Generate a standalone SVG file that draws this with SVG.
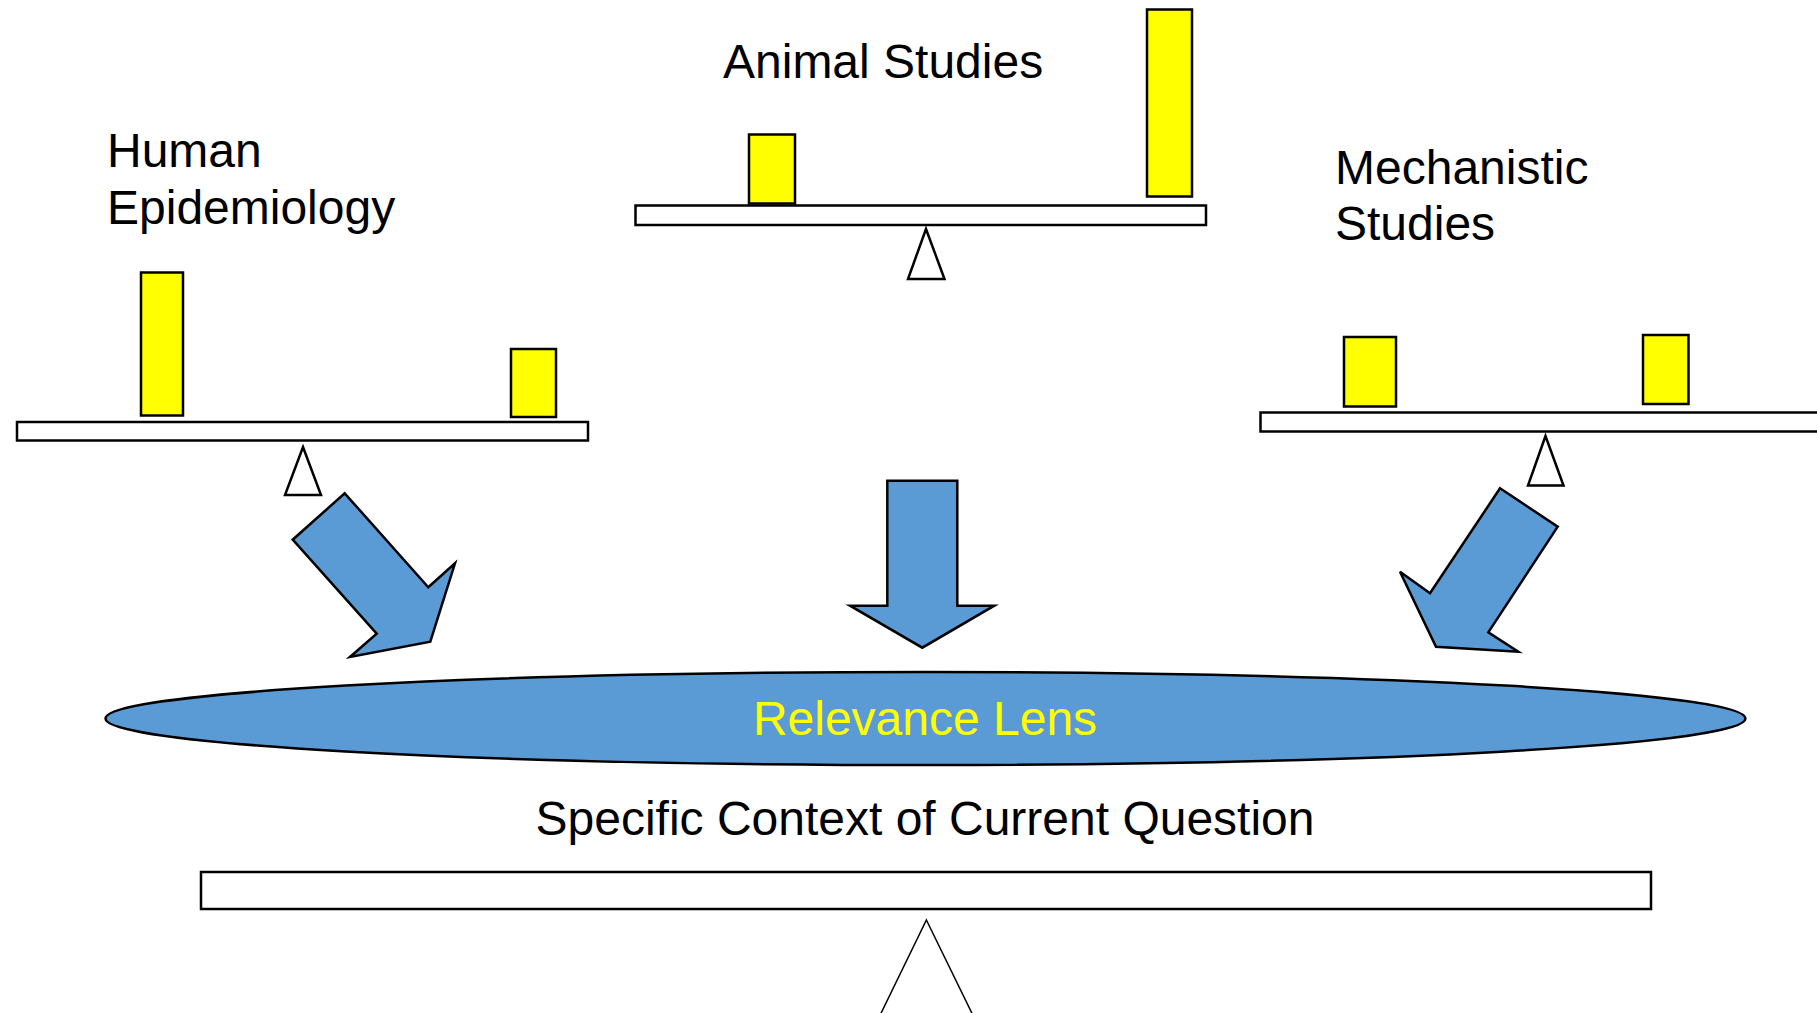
<svg xmlns="http://www.w3.org/2000/svg" width="1817" height="1013" viewBox="0 0 1817 1013">
<style>
.lbl{font-family:"Liberation Sans",Arial,sans-serif;font-size:48px;fill:#000}
.weight{fill:#FFFF00;stroke:#000;stroke-width:2.5}
.beam{fill:#fff;stroke:#000;stroke-width:2.5}
.fulcrum{fill:#fff;stroke:#000;stroke-width:2.5;stroke-linejoin:miter}
.arrow{fill:#5B9BD5;stroke:#000;stroke-width:2.5;stroke-linejoin:miter}
</style>
<rect width="1817" height="1013" fill="#fff"/>
<g id="human-epidemiology">
<text class="lbl" x="107" y="167">Human</text>
<text class="lbl" x="107" y="224">Epidemiology</text>
<rect class="weight" x="141" y="272.5" width="42" height="143"/>
<rect class="weight" x="511" y="349" width="45" height="68"/>
<rect class="beam" x="17" y="422" width="571" height="18.5"/>
<polygon class="fulcrum" points="303,447 321,495 285,495"/>
</g>
<g id="animal-studies">
<text class="lbl" x="723" y="78">Animal Studies</text>
<rect class="weight" x="749" y="134.5" width="46" height="69"/>
<rect class="weight" x="1147" y="9.5" width="45" height="187"/>
<rect class="beam" x="635.5" y="205.5" width="570.5" height="19.5"/>
<polygon class="fulcrum" points="926,229 944.5,279 908,279"/>
</g>
<g id="mechanistic-studies">
<text class="lbl" x="1335" y="184">Mechanistic</text>
<text class="lbl" x="1335" y="240">Studies</text>
<rect class="weight" x="1344" y="337" width="52" height="69.5"/>
<rect class="weight" x="1643" y="335" width="45.5" height="69"/>
<rect class="beam" x="1260.5" y="412.5" width="600" height="19"/>
<polygon class="fulcrum" points="1545.5,436 1563.5,485.5 1528,485.5"/>
</g>
<g id="connectors">
<polygon class="arrow" points="344.7,493.3 428.3,587.3 455,563.3 430.3,641.7 350,657 376.7,633.7 292.7,539.7"/>
<polygon class="arrow" points="887.3,480.7 957.3,480.7 957.3,605.7 994.3,605.7 922.3,647.7 850,605.7 887.3,605.7"/>
<polygon class="arrow" points="1500,488.3 1557.7,526.7 1488.3,632.3 1518.3,651.7 1436,646.7 1400,571.7 1430,593.3"/>
</g>
<g id="relevance-lens">
<ellipse cx="925.5" cy="718.5" rx="820" ry="46.5" fill="#5B9BD5" stroke="#000" stroke-width="2.5"/>
<text class="lbl" x="925" y="735" text-anchor="middle" style="fill:#FFFF00">Relevance Lens</text>
</g>
<g id="specific-context">
<text class="lbl" x="925" y="835" text-anchor="middle">Specific Context of Current Question</text>
<rect class="beam" x="201" y="872" width="1450" height="37"/>
<polygon fill="#fff" stroke="#000" stroke-width="1.5" points="926.4,920 985,1040 868,1040"/>
</g>
</svg>
